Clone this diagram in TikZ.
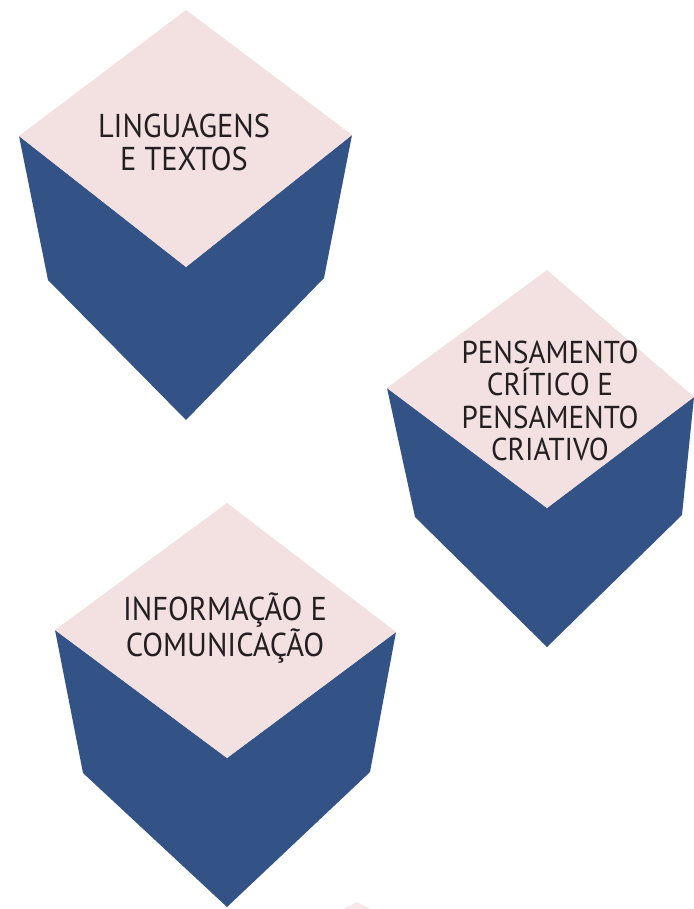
\documentclass[tikz,border=0pt]{standalone}
\usepackage{fontspec}
\newfontfamily\cubefont{PT Sans}[FakeStretch=0.92]
\definecolor{cubeblue}{HTML}{335387}
\definecolor{cubepink}{HTML}{F3E0E0}
\definecolor{cubetext}{HTML}{231F20}

\begin{document}
\begin{tikzpicture}[
      x=0.025cm, y=-0.025cm,
      side/.style={fill=cubeblue},
      top/.style={fill=cubepink},
      lab/.style={font=\cubefont\fontsize{23.5}{23.5}\selectfont, text=cubetext,
        align=center, inner sep=0pt}
    ]
    \useasboundingbox (0,0) rectangle (694,909);

    % linguagens e textos
    \fill[side] (19,136) -- (48,280) -- (186,420) -- (324,278) -- (352,135) -- (186,267) -- cycle;
    \fill[top] (186,10) -- (19,136) -- (186,267) -- (352,135) -- cycle;
    \node[lab] (ling) at (184,142) {LINGUAGENS\\E TEXTOS};

    % pensamento critico e criativo
    \fill[side] (387,388) -- (415,517) -- (547,647) -- (682,515) -- (694,397) -- (547,508) -- cycle;
    \fill[top] (547,270) -- (387,388) -- (547,508) -- (694,397) -- cycle;
    \node[lab, font=\cubefont\fontsize{22.5}{23}\selectfont] (pens) at (550,401) {PENSAMENTO\\CRÍTICO E\\PENSAMENTO\\CRIATIVO};

    % informacao e comunicacao
    \fill[side] (55,630) -- (83,773) -- (227,907) -- (370,772) -- (396,632) -- (227,758) -- cycle;
    \fill[top] (227,503) -- (55,630) -- (227,758) -- (396,632) -- cycle;
    \node[lab] (info) at (225,628) {INFORMAÇÃO E\\COMUNICAÇÃO};

    % next cube, cut off
    \fill[top, opacity=0.7] (357,902) -- (343,909) -- (371,909) -- cycle;
  \end{tikzpicture}
\end{document}
